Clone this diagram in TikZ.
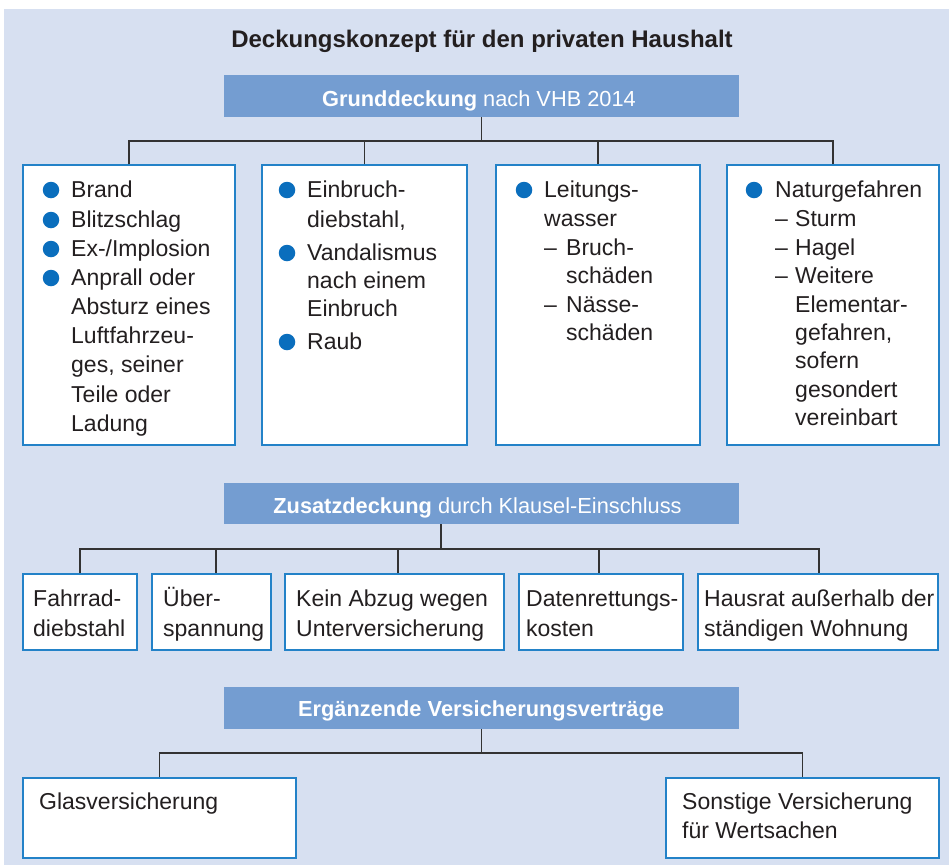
\documentclass[tikz,border=0pt]{standalone}
\usepackage{fontspec}
\setmainfont{Liberation Sans}
\definecolor{bgc}{HTML}{D7E0F1}
\definecolor{barc}{HTML}{749DD1}
\definecolor{boxc}{HTML}{2382C8}
\definecolor{bulc}{HTML}{0A6EBD}
\definecolor{linec}{HTML}{333333}
\definecolor{txtc}{HTML}{231F20}
\begin{document}
\begin{tikzpicture}[x=1pt,y=-1pt,
  bar/.style={rectangle, fill=barc, inner sep=0, minimum width=515pt, minimum height=42pt},
  bartxt/.style={anchor=base, inner sep=0, text=white, font=\fontsize{21.8}{26}\selectfont},
  box/.style={rectangle, draw=boxc, fill=white, line width=1.3pt, inner sep=0},
  txt/.style={anchor=base west, inner sep=0, text=txtc, font=\fontsize{23}{28}\selectfont},
  bul/.style={circle, fill=bulc, minimum size=16.5pt, inner sep=0},
  conn/.style={draw=linec, line width=1.2pt}]
\useasboundingbox (0,0) rectangle (949,865);
\fill[bgc] (4,9) rectangle (949,865);

% title
\node[anchor=base, inner sep=0, text=txtc, font=\bfseries\fontsize{24}{28}\selectfont] (title) at (482,47) {Deckungskonzept für den privaten Haushalt};

% bars
\node[bar] (bar1) at (481.5,96) {};
\node[bartxt] (bar1t) at (479,106) {{\bfseries Grunddeckung} nach VHB 2014};
\node[bar, minimum height=41pt] (bar2) at (481.5,503.5) {};
\node[bartxt] (bar2t) at (477.5,513) {{\bfseries Zusatzdeckung} durch Klausel-Einschluss};
\node[bar] (bar3) at (481.5,708) {};
\node[bartxt] (bar3t) at (481,716) {\bfseries Ergänzende Versicherungsverträge};

% row 1 boxes
\node[box, minimum width=212pt, minimum height=280pt] (a) at (129,305) {};
\node[box, minimum width=205pt, minimum height=280pt] (b) at (364.5,305) {};
\node[box, minimum width=204pt, minimum height=280pt] (c) at (598,305) {};
\node[box, minimum width=212pt, minimum height=280pt] (d) at (833,305) {};

% row 2 boxes
\node[box, minimum width=114pt, minimum height=76pt] (e) at (80,612) {};
\node[box, minimum width=119pt, minimum height=76pt] (f) at (211.5,612) {};
\node[box, minimum width=219pt, minimum height=76pt] (g) at (394.5,612) {};
\node[box, minimum width=164pt, minimum height=76pt] (h) at (601,612) {};
\node[box, minimum width=240pt, minimum height=76pt] (i) at (818,612) {};

% row 3 boxes
\node[box, minimum width=273pt, minimum height=80pt] (j) at (159.5,818) {};
\node[box, minimum width=273pt, minimum height=80pt] (k) at (802.5,818) {};

% connectors row 1
\coordinate (j1) at (481,141);
\draw[conn] (bar1.south) -- (bar1.south |- j1);
\draw[conn] (a.north) -- (a.north |- j1) -- (d.north |- j1) -- (d.north);
\draw[conn] (b.north) -- (b.north |- j1);
\draw[conn] (c.north) -- (c.north |- j1);

% connectors row 2
\coordinate (j2) at (441,549);
\coordinate (e2) at (80,549);
\coordinate (f2) at (216,549);
\coordinate (g2) at (398,549);
\coordinate (h2) at (599,549);
\coordinate (i2) at (819,549);
\draw[conn] (j2 |- bar2.south) -- (j2);
\draw[conn] (e2 |- e.north) -- (e2) -- (i2) -- (i2 |- i.north);
\draw[conn] (f2) -- (f2 |- f.north);
\draw[conn] (g2) -- (g2 |- g.north);
\draw[conn] (h2) -- (h2 |- h.north);

% connectors row 3
\coordinate (j3) at (481,753);
\draw[conn] (bar3.south) -- (bar3.south |- j3);
\draw[conn] (j.north) -- (j.north |- j3) -- (k.north |- j3) -- (k.north);

% box a
\node[bul] (ab1) at (51,190) {};
\node[bul] (ab2) at (51,220) {};
\node[bul] (ab3) at (51,249) {};
\node[bul] (ab4) at (51,278) {};
\node[txt] (a1) at (71,197) {Brand};
\node[txt] (a2) at (71,227) {Blitzschlag};
\node[txt] (a3) at (71,256) {Ex-/Implosion};
\node[txt] (a4) at (71,285) {Anprall oder};
\node[txt] (a5) at (71,314) {Absturz eines};
\node[txt] (a6) at (71,343) {Luftfahrzeu-};
\node[txt] (a7) at (71,372.5) {ges, seiner};
\node[txt] (a8) at (71,402) {Teile oder};
\node[txt] (a9) at (71,431) {Ladung};

% box b
\node[bul] (bb1) at (287,190) {};
\node[bul] (bb2) at (287,253) {};
\node[bul] (bb3) at (287,342) {};
\node[txt] (b1) at (307,197) {Einbruch-};
\node[txt] (b2) at (307,227) {diebstahl,};
\node[txt] (b3) at (307,260) {Vandalismus};
\node[txt] (b4) at (307,288) {nach einem};
\node[txt] (b5) at (307,316) {Einbruch};
\node[txt] (b6) at (307,349) {Raub};

% box c
\node[bul] (cb1) at (524,190) {};
\node[txt] (c1) at (544,197) {Leitungs-};
\node[txt] (c2) at (544,226) {wasser};
\node[txt] (c3d) at (544,255) {–};
\node[txt] (c3) at (566,255) {Bruch-};
\node[txt] (c4) at (566,283) {schäden};
\node[txt] (c5d) at (544,312) {–};
\node[txt] (c5) at (566,312) {Nässe-};
\node[txt] (c6) at (566,340) {schäden};

% box d
\node[bul] (db1) at (754,190) {};
\node[txt] (d1) at (775,197) {Naturgefahren};
\node[txt] (d2d) at (775,226) {–};
\node[txt] (d2) at (795,226) {Sturm};
\node[txt] (d3d) at (775,255) {–};
\node[txt] (d3) at (795,255) {Hagel};
\node[txt] (d4d) at (775,283) {–};
\node[txt] (d4) at (795,283) {Weitere};
\node[txt] (d5) at (795,312) {Elementar-};
\node[txt] (d6) at (795,340) {gefahren,};
\node[txt] (d7) at (795,368) {sofern};
\node[txt] (d8) at (795,397) {gesondert};
\node[txt] (d9) at (795,425) {vereinbart};

% row 2 texts
\node[txt] (e1) at (33,606) {Fahrrad-};
\node[txt] (e3) at (33,636) {diebstahl};
\node[txt] (f1) at (163,606) {Über-};
\node[txt] (f3) at (163,636) {spannung};
\node[txt] (g1) at (296,606) {Kein Abzug wegen};
\node[txt] (g3) at (296,636) {Unterversicherung};
\node[txt] (h1) at (526,606) {Datenrettungs-};
\node[txt] (h3) at (526,636) {kosten};
\node[txt] (i1) at (704,606) {Hausrat außerhalb der};
\node[txt] (i3) at (704,636) {ständigen Wohnung};

% row 3 texts
\node[txt] (j1t) at (39,809) {Glasversicherung};
\node[txt] (k1) at (682,809) {Sonstige Versicherung};
\node[txt] (k2) at (682,838) {für Wertsachen};
\end{tikzpicture}
\end{document}
